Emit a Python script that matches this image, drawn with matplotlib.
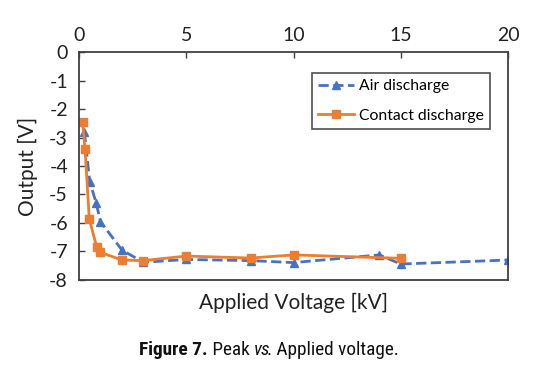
import matplotlib
matplotlib.use("Agg")
import matplotlib.pyplot as plt
from matplotlib import font_manager

# data
air_kv = [0.25, 0.5, 0.8, 1, 2, 3, 5, 8, 10, 14, 15, 20]
air_out = [-2.8, -4.55, -5.3, -5.95, -6.95, -7.38, -7.28, -7.32, -7.39, -7.12, -7.44, -7.3]
contact_kv = [0.17, 0.28, 0.48, 0.82, 1, 2, 3, 5, 8, 10, 15]
contact_out = [-2.47, -3.41, -5.87, -6.83, -7.03, -7.3, -7.32, -7.16, -7.23, -7.12, -7.24]

x_ticks = [0, 5, 10, 15, 20]
y_ticks = [0, -1, -2, -3, -4, -5, -6, -7, -8]

BLUE = "#4472C4"
ORANGE = "#ED7D31"
AXC = "#404040"

plt.rcParams["font.family"] = ["Lato", "DejaVu Sans"]

fig = plt.figure(figsize=(5.48, 3.78), dpi=100)
ax = fig.add_axes([0.1442, 0.2593, 0.7828, 0.6031])

ax.plot(air_kv, air_out, color=BLUE, linestyle="--", linewidth=2,
        marker="^", markersize=6, label="Air discharge")
ax.plot(contact_kv, contact_out, color=ORANGE, linestyle="-", linewidth=2,
        marker="s", markersize=6, label="Contact discharge")

ax.set_xlim(0, 20)
ax.set_ylim(-8, 0)
ax.set_xticks(x_ticks)
ax.set_yticks(y_ticks)
ax.set_yticklabels([str(v) for v in y_ticks])
ax.xaxis.tick_top()
ax.tick_params(axis="x", direction="in", length=4, width=1, color=AXC,
               labelsize=14, pad=6, labelcolor="#222222")
ax.tick_params(axis="y", direction="in", length=4, width=1, color=AXC,
               labelsize=14, pad=8, labelcolor="#222222")
for s in ax.spines.values():
    s.set_color(AXC)
    s.set_linewidth(1.3)

ax.set_xlabel("Applied Voltage [kV]", fontsize=15, color="#222222", labelpad=9)
ax.xaxis.set_label_position("bottom")
ax.set_ylabel("Output [V]", fontsize=15, color="#222222", labelpad=8)

leg = ax.legend(loc="upper right", bbox_to_anchor=(0.958, 0.908), fontsize=11.3,
                frameon=True, fancybox=False, borderpad=0.4, handlelength=2.3,
                labelspacing=1.0, handletextpad=0.3, borderaxespad=0)
leg.get_frame().set_edgecolor("#222222")
leg.get_frame().set_linewidth(1.2)

# caption: condensed font if one is available
names = {f.name for f in font_manager.fontManager.ttflist}
cap_font = ["DejaVu Sans"]
for cand in ["Roboto Condensed", "Liberation Sans Narrow", "Open Sans Condensed"]:
    if cand in names:
        cap_font = [cand, "DejaVu Sans"]
        break
parts = [("Figure 7.", "bold", "normal"), (" Peak ", "normal", "normal"),
         ("vs", "normal", "italic"), (". Applied voltage.", "normal", "normal")]
fig.canvas.draw()
r = fig.canvas.get_renderer()
texts = []
for s, w, st in parts:
    t = fig.text(0, 1 - 350 / 378, s, fontsize=13.9, weight=w, style=st,
                 family=cap_font, stretch="condensed", va="center", ha="left",
                 color="#111111")
    texts.append(t)
widths = [t.get_window_extent(r).width for t in texts]
widths[2] -= 3  # italic box is wider than the glyphs
total = sum(widths)
pos = 269 / 548 * fig.bbox.width - total / 2
for t, wd in zip(texts, widths):
    t.set_x(pos / fig.bbox.width)
    pos += wd

fig.savefig("out.png", dpi=100)
